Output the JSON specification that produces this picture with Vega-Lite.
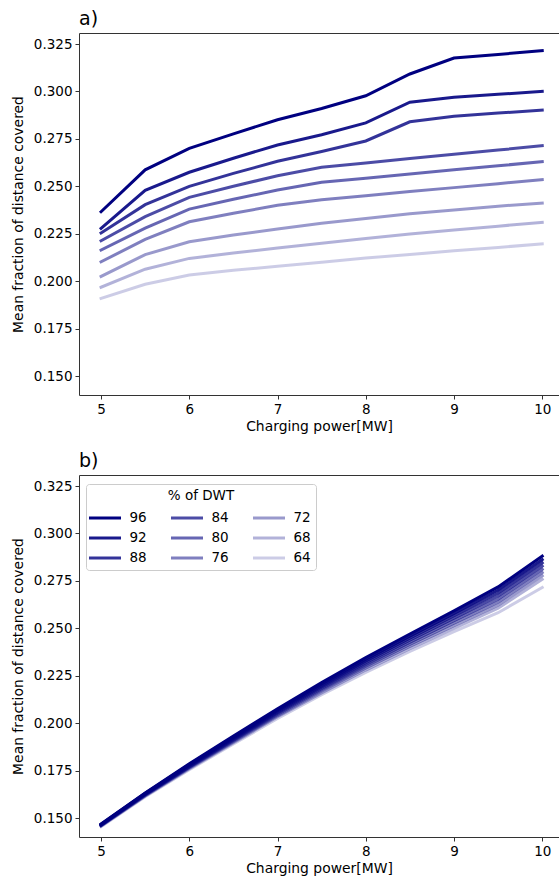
{
  "$schema": "https://vega.github.io/schema/vega-lite/v6.json",
  "padding": {"left": 11, "top": 10, "right": 0, "bottom": 0},
  "config": {
    "font": "DejaVu Sans",
    "view": {"stroke": null},
    "axis": {
      "domainColor": "#333333",
      "tickColor": "#333333",
      "labelColor": "#000000",
      "titleColor": "#000000",
      "labelFontSize": 13.5,
      "titleFontSize": 13.9,
      "titleFontWeight": "normal",
      "tickSize": 4,
      "labelPadding": 3,
      "grid": false
    },
    "title": {"fontSize": 19, "fontWeight": "normal", "anchor": "start", "frame": "group", "color": "#000000", "offset": 4},
    "legend": {
      "symbolType": "M-2.667,0H2.667",
      "symbolSize": 144,
      "symbolOffset": 6.5,
      "symbolStrokeWidth": 3,
      "labelFontSize": 13.5,
      "labelColor": "#000000",
      "titleFontSize": 13.5,
      "titleFontWeight": "normal",
      "titleColor": "#000000",
      "titleAnchor": "middle",
      "titlePadding": 8,
      "labelOffset": 17,
      "rowPadding": 6,
      "columnPadding": 17,
      "padding": 5,
      "strokeColor": "#cccccc",
      "fillColor": "#ffffff",
      "cornerRadius": 3
    },
    "concat": {"spacing": 18}
  },
  "datasets": {
    "curves": [
      {"panel": "a", "dwt": 96, "power": 5, "frac": 0.2366},
      {"panel": "a", "dwt": 96, "power": 5.5, "frac": 0.2587},
      {"panel": "a", "dwt": 96, "power": 6, "frac": 0.2700},
      {"panel": "a", "dwt": 96, "power": 6.5, "frac": 0.2776},
      {"panel": "a", "dwt": 96, "power": 7, "frac": 0.2851},
      {"panel": "a", "dwt": 96, "power": 7.5, "frac": 0.2910},
      {"panel": "a", "dwt": 96, "power": 8, "frac": 0.2977},
      {"panel": "a", "dwt": 96, "power": 8.5, "frac": 0.3092},
      {"panel": "a", "dwt": 96, "power": 9, "frac": 0.3176},
      {"panel": "a", "dwt": 96, "power": 9.5, "frac": 0.3195},
      {"panel": "a", "dwt": 96, "power": 10, "frac": 0.3215},
      {"panel": "a", "dwt": 92, "power": 5, "frac": 0.2278},
      {"panel": "a", "dwt": 92, "power": 5.5, "frac": 0.2479},
      {"panel": "a", "dwt": 92, "power": 6, "frac": 0.2574},
      {"panel": "a", "dwt": 92, "power": 6.5, "frac": 0.2648},
      {"panel": "a", "dwt": 92, "power": 7, "frac": 0.2718},
      {"panel": "a", "dwt": 92, "power": 7.5, "frac": 0.2772},
      {"panel": "a", "dwt": 92, "power": 8, "frac": 0.2834},
      {"panel": "a", "dwt": 92, "power": 8.5, "frac": 0.2943},
      {"panel": "a", "dwt": 92, "power": 9, "frac": 0.2969},
      {"panel": "a", "dwt": 92, "power": 9.5, "frac": 0.2985},
      {"panel": "a", "dwt": 92, "power": 10, "frac": 0.3000},
      {"panel": "a", "dwt": 88, "power": 5, "frac": 0.2254},
      {"panel": "a", "dwt": 88, "power": 5.5, "frac": 0.2403},
      {"panel": "a", "dwt": 88, "power": 6, "frac": 0.2500},
      {"panel": "a", "dwt": 88, "power": 6.5, "frac": 0.2568},
      {"panel": "a", "dwt": 88, "power": 7, "frac": 0.2632},
      {"panel": "a", "dwt": 88, "power": 7.5, "frac": 0.2683},
      {"panel": "a", "dwt": 88, "power": 8, "frac": 0.2739},
      {"panel": "a", "dwt": 88, "power": 8.5, "frac": 0.2840},
      {"panel": "a", "dwt": 88, "power": 9, "frac": 0.2869},
      {"panel": "a", "dwt": 88, "power": 9.5, "frac": 0.2886},
      {"panel": "a", "dwt": 88, "power": 10, "frac": 0.2902},
      {"panel": "a", "dwt": 84, "power": 5, "frac": 0.2213},
      {"panel": "a", "dwt": 84, "power": 5.5, "frac": 0.2340},
      {"panel": "a", "dwt": 84, "power": 6, "frac": 0.2442},
      {"panel": "a", "dwt": 84, "power": 6.5, "frac": 0.2500},
      {"panel": "a", "dwt": 84, "power": 7, "frac": 0.2556},
      {"panel": "a", "dwt": 84, "power": 7.5, "frac": 0.2600},
      {"panel": "a", "dwt": 84, "power": 8, "frac": 0.2623},
      {"panel": "a", "dwt": 84, "power": 8.5, "frac": 0.2646},
      {"panel": "a", "dwt": 84, "power": 9, "frac": 0.2669},
      {"panel": "a", "dwt": 84, "power": 9.5, "frac": 0.2691},
      {"panel": "a", "dwt": 84, "power": 10, "frac": 0.2714},
      {"panel": "a", "dwt": 80, "power": 5, "frac": 0.2164},
      {"panel": "a", "dwt": 80, "power": 5.5, "frac": 0.2280},
      {"panel": "a", "dwt": 80, "power": 6, "frac": 0.2380},
      {"panel": "a", "dwt": 80, "power": 6.5, "frac": 0.2432},
      {"panel": "a", "dwt": 80, "power": 7, "frac": 0.2480},
      {"panel": "a", "dwt": 80, "power": 7.5, "frac": 0.2521},
      {"panel": "a", "dwt": 80, "power": 8, "frac": 0.2543},
      {"panel": "a", "dwt": 80, "power": 8.5, "frac": 0.2565},
      {"panel": "a", "dwt": 80, "power": 9, "frac": 0.2587},
      {"panel": "a", "dwt": 80, "power": 9.5, "frac": 0.2608},
      {"panel": "a", "dwt": 80, "power": 10, "frac": 0.2630},
      {"panel": "a", "dwt": 76, "power": 5, "frac": 0.2102},
      {"panel": "a", "dwt": 76, "power": 5.5, "frac": 0.2220},
      {"panel": "a", "dwt": 76, "power": 6, "frac": 0.2313},
      {"panel": "a", "dwt": 76, "power": 6.5, "frac": 0.2358},
      {"panel": "a", "dwt": 76, "power": 7, "frac": 0.2400},
      {"panel": "a", "dwt": 76, "power": 7.5, "frac": 0.2429},
      {"panel": "a", "dwt": 76, "power": 8, "frac": 0.2450},
      {"panel": "a", "dwt": 76, "power": 8.5, "frac": 0.2472},
      {"panel": "a", "dwt": 76, "power": 9, "frac": 0.2493},
      {"panel": "a", "dwt": 76, "power": 9.5, "frac": 0.2514},
      {"panel": "a", "dwt": 76, "power": 10, "frac": 0.2535},
      {"panel": "a", "dwt": 72, "power": 5, "frac": 0.2025},
      {"panel": "a", "dwt": 72, "power": 5.5, "frac": 0.2140},
      {"panel": "a", "dwt": 72, "power": 6, "frac": 0.2208},
      {"panel": "a", "dwt": 72, "power": 6.5, "frac": 0.2243},
      {"panel": "a", "dwt": 72, "power": 7, "frac": 0.2275},
      {"panel": "a", "dwt": 72, "power": 7.5, "frac": 0.2305},
      {"panel": "a", "dwt": 72, "power": 8, "frac": 0.2330},
      {"panel": "a", "dwt": 72, "power": 8.5, "frac": 0.2355},
      {"panel": "a", "dwt": 72, "power": 9, "frac": 0.2375},
      {"panel": "a", "dwt": 72, "power": 9.5, "frac": 0.2395},
      {"panel": "a", "dwt": 72, "power": 10, "frac": 0.2412},
      {"panel": "a", "dwt": 68, "power": 5, "frac": 0.1968},
      {"panel": "a", "dwt": 68, "power": 5.5, "frac": 0.2063},
      {"panel": "a", "dwt": 68, "power": 6, "frac": 0.2120},
      {"panel": "a", "dwt": 68, "power": 6.5, "frac": 0.2148},
      {"panel": "a", "dwt": 68, "power": 7, "frac": 0.2175},
      {"panel": "a", "dwt": 68, "power": 7.5, "frac": 0.2200},
      {"panel": "a", "dwt": 68, "power": 8, "frac": 0.2225},
      {"panel": "a", "dwt": 68, "power": 8.5, "frac": 0.2248},
      {"panel": "a", "dwt": 68, "power": 9, "frac": 0.2270},
      {"panel": "a", "dwt": 68, "power": 9.5, "frac": 0.2290},
      {"panel": "a", "dwt": 68, "power": 10, "frac": 0.2310},
      {"panel": "a", "dwt": 64, "power": 5, "frac": 0.1909},
      {"panel": "a", "dwt": 64, "power": 5.5, "frac": 0.1984},
      {"panel": "a", "dwt": 64, "power": 6, "frac": 0.2032},
      {"panel": "a", "dwt": 64, "power": 6.5, "frac": 0.2058},
      {"panel": "a", "dwt": 64, "power": 7, "frac": 0.2078},
      {"panel": "a", "dwt": 64, "power": 7.5, "frac": 0.2100},
      {"panel": "a", "dwt": 64, "power": 8, "frac": 0.2122},
      {"panel": "a", "dwt": 64, "power": 8.5, "frac": 0.2140},
      {"panel": "a", "dwt": 64, "power": 9, "frac": 0.2160},
      {"panel": "a", "dwt": 64, "power": 9.5, "frac": 0.2178},
      {"panel": "a", "dwt": 64, "power": 10, "frac": 0.2196},

      {"panel": "b", "dwt": 96, "power": 5, "frac": 0.1468},
      {"panel": "b", "dwt": 96, "power": 5.5, "frac": 0.1632},
      {"panel": "b", "dwt": 96, "power": 6, "frac": 0.1786},
      {"panel": "b", "dwt": 96, "power": 6.5, "frac": 0.1932},
      {"panel": "b", "dwt": 96, "power": 7, "frac": 0.2076},
      {"panel": "b", "dwt": 96, "power": 7.5, "frac": 0.2214},
      {"panel": "b", "dwt": 96, "power": 8, "frac": 0.2346},
      {"panel": "b", "dwt": 96, "power": 8.5, "frac": 0.2470},
      {"panel": "b", "dwt": 96, "power": 9, "frac": 0.2592},
      {"panel": "b", "dwt": 96, "power": 9.5, "frac": 0.2718},
      {"panel": "b", "dwt": 96, "power": 10, "frac": 0.2880},
      {"panel": "b", "dwt": 92, "power": 5, "frac": 0.1467},
      {"panel": "b", "dwt": 92, "power": 5.5, "frac": 0.1630},
      {"panel": "b", "dwt": 92, "power": 6, "frac": 0.1782},
      {"panel": "b", "dwt": 92, "power": 6.5, "frac": 0.1927},
      {"panel": "b", "dwt": 92, "power": 7, "frac": 0.2070},
      {"panel": "b", "dwt": 92, "power": 7.5, "frac": 0.2206},
      {"panel": "b", "dwt": 92, "power": 8, "frac": 0.2336},
      {"panel": "b", "dwt": 92, "power": 8.5, "frac": 0.2459},
      {"panel": "b", "dwt": 92, "power": 9, "frac": 0.2579},
      {"panel": "b", "dwt": 92, "power": 9.5, "frac": 0.2702},
      {"panel": "b", "dwt": 92, "power": 10, "frac": 0.2862},
      {"panel": "b", "dwt": 88, "power": 5, "frac": 0.1465},
      {"panel": "b", "dwt": 88, "power": 5.5, "frac": 0.1628},
      {"panel": "b", "dwt": 88, "power": 6, "frac": 0.1779},
      {"panel": "b", "dwt": 88, "power": 6.5, "frac": 0.1922},
      {"panel": "b", "dwt": 88, "power": 7, "frac": 0.2064},
      {"panel": "b", "dwt": 88, "power": 7.5, "frac": 0.2198},
      {"panel": "b", "dwt": 88, "power": 8, "frac": 0.2327},
      {"panel": "b", "dwt": 88, "power": 8.5, "frac": 0.2448},
      {"panel": "b", "dwt": 88, "power": 9, "frac": 0.2566},
      {"panel": "b", "dwt": 88, "power": 9.5, "frac": 0.2686},
      {"panel": "b", "dwt": 88, "power": 10, "frac": 0.2845},
      {"panel": "b", "dwt": 84, "power": 5, "frac": 0.1464},
      {"panel": "b", "dwt": 84, "power": 5.5, "frac": 0.1626},
      {"panel": "b", "dwt": 84, "power": 6, "frac": 0.1775},
      {"panel": "b", "dwt": 84, "power": 6.5, "frac": 0.1917},
      {"panel": "b", "dwt": 84, "power": 7, "frac": 0.2058},
      {"panel": "b", "dwt": 84, "power": 7.5, "frac": 0.2191},
      {"panel": "b", "dwt": 84, "power": 8, "frac": 0.2318},
      {"panel": "b", "dwt": 84, "power": 8.5, "frac": 0.2437},
      {"panel": "b", "dwt": 84, "power": 9, "frac": 0.2553},
      {"panel": "b", "dwt": 84, "power": 9.5, "frac": 0.2670},
      {"panel": "b", "dwt": 84, "power": 10, "frac": 0.2828},
      {"panel": "b", "dwt": 80, "power": 5, "frac": 0.1462},
      {"panel": "b", "dwt": 80, "power": 5.5, "frac": 0.1623},
      {"panel": "b", "dwt": 80, "power": 6, "frac": 0.1771},
      {"panel": "b", "dwt": 80, "power": 6.5, "frac": 0.1912},
      {"panel": "b", "dwt": 80, "power": 7, "frac": 0.2052},
      {"panel": "b", "dwt": 80, "power": 7.5, "frac": 0.2183},
      {"panel": "b", "dwt": 80, "power": 8, "frac": 0.2308},
      {"panel": "b", "dwt": 80, "power": 8.5, "frac": 0.2426},
      {"panel": "b", "dwt": 80, "power": 9, "frac": 0.2540},
      {"panel": "b", "dwt": 80, "power": 9.5, "frac": 0.2654},
      {"panel": "b", "dwt": 80, "power": 10, "frac": 0.2811},
      {"panel": "b", "dwt": 76, "power": 5, "frac": 0.1461},
      {"panel": "b", "dwt": 76, "power": 5.5, "frac": 0.1621},
      {"panel": "b", "dwt": 76, "power": 6, "frac": 0.1768},
      {"panel": "b", "dwt": 76, "power": 6.5, "frac": 0.1907},
      {"panel": "b", "dwt": 76, "power": 7, "frac": 0.2046},
      {"panel": "b", "dwt": 76, "power": 7.5, "frac": 0.2176},
      {"panel": "b", "dwt": 76, "power": 8, "frac": 0.2299},
      {"panel": "b", "dwt": 76, "power": 8.5, "frac": 0.2415},
      {"panel": "b", "dwt": 76, "power": 9, "frac": 0.2527},
      {"panel": "b", "dwt": 76, "power": 9.5, "frac": 0.2638},
      {"panel": "b", "dwt": 76, "power": 10, "frac": 0.2794},
      {"panel": "b", "dwt": 72, "power": 5, "frac": 0.1459},
      {"panel": "b", "dwt": 72, "power": 5.5, "frac": 0.1618},
      {"panel": "b", "dwt": 72, "power": 6, "frac": 0.1764},
      {"panel": "b", "dwt": 72, "power": 6.5, "frac": 0.1902},
      {"panel": "b", "dwt": 72, "power": 7, "frac": 0.2040},
      {"panel": "b", "dwt": 72, "power": 7.5, "frac": 0.2168},
      {"panel": "b", "dwt": 72, "power": 8, "frac": 0.2290},
      {"panel": "b", "dwt": 72, "power": 8.5, "frac": 0.2404},
      {"panel": "b", "dwt": 72, "power": 9, "frac": 0.2514},
      {"panel": "b", "dwt": 72, "power": 9.5, "frac": 0.2622},
      {"panel": "b", "dwt": 72, "power": 10, "frac": 0.2777},
      {"panel": "b", "dwt": 68, "power": 5, "frac": 0.1458},
      {"panel": "b", "dwt": 68, "power": 5.5, "frac": 0.1616},
      {"panel": "b", "dwt": 68, "power": 6, "frac": 0.1760},
      {"panel": "b", "dwt": 68, "power": 6.5, "frac": 0.1897},
      {"panel": "b", "dwt": 68, "power": 7, "frac": 0.2034},
      {"panel": "b", "dwt": 68, "power": 7.5, "frac": 0.2160},
      {"panel": "b", "dwt": 68, "power": 8, "frac": 0.2280},
      {"panel": "b", "dwt": 68, "power": 8.5, "frac": 0.2393},
      {"panel": "b", "dwt": 68, "power": 9, "frac": 0.2500},
      {"panel": "b", "dwt": 68, "power": 9.5, "frac": 0.2606},
      {"panel": "b", "dwt": 68, "power": 10, "frac": 0.2758},
      {"panel": "b", "dwt": 64, "power": 5, "frac": 0.1455},
      {"panel": "b", "dwt": 64, "power": 5.5, "frac": 0.1612},
      {"panel": "b", "dwt": 64, "power": 6, "frac": 0.1755},
      {"panel": "b", "dwt": 64, "power": 6.5, "frac": 0.1890},
      {"panel": "b", "dwt": 64, "power": 7, "frac": 0.2025},
      {"panel": "b", "dwt": 64, "power": 7.5, "frac": 0.2150},
      {"panel": "b", "dwt": 64, "power": 8, "frac": 0.2268},
      {"panel": "b", "dwt": 64, "power": 8.5, "frac": 0.2378},
      {"panel": "b", "dwt": 64, "power": 9, "frac": 0.2482},
      {"panel": "b", "dwt": 64, "power": 9.5, "frac": 0.2582},
      {"panel": "b", "dwt": 64, "power": 10, "frac": 0.2715}
    ]
  },
  "vconcat": [
    {
      "title": "a)",
      "width": 480,
      "height": 362,
      "data": {"name": "curves"},
      "transform": [{"filter": "datum.panel === 'a'"}],
      "layer": [
        {
          "mark": {"type": "line", "strokeWidth": 3, "strokeCap": "square", "clip": true},
          "encoding": {
            "x": {"field": "power", "type": "quantitative", "scale": {"domain": [4.75, 10.19], "nice": false, "zero": false}, "axis": {"values": [5, 6, 7, 8, 9, 10], "title": "Charging power[MW]", "titlePadding": 4}},
            "y": {"field": "frac", "type": "quantitative", "scale": {"domain": [0.14, 0.3308], "nice": false, "zero": false}, "axis": {"values": [0.15, 0.175, 0.2, 0.225, 0.25, 0.275, 0.3, 0.325], "format": ".3f", "title": "Mean fraction of distance covered", "titlePadding": 8}},
            "color": {"field": "dwt", "type": "nominal", "scale": {"domain": [96, 92, 88, 84, 80, 76, 72, 68, 64], "range": ["rgba(0,0,128,1)", "rgba(0,0,128,0.9)", "rgba(0,0,128,0.8)", "rgba(0,0,128,0.7)", "rgba(0,0,128,0.6)", "rgba(0,0,128,0.5)", "rgba(0,0,128,0.4)", "rgba(0,0,128,0.3)", "rgba(0,0,128,0.2)"]}, "legend": null},
            "order": {"field": "power", "type": "quantitative"}
          }
        },
        {
          "mark": {"type": "line", "opacity": 0},
          "encoding": {
            "x": {"field": "power", "type": "quantitative", "axis": {"orient": "top", "labels": false, "ticks": false, "title": null, "domain": true}},
            "y": {"field": "frac", "type": "quantitative", "axis": null},
            "detail": {"field": "dwt", "type": "nominal"}
          }
        }
      ],
      "resolve": {"axis": {"x": "independent", "y": "independent"}}
    },
    {
      "title": "b)",
      "width": 480,
      "height": 362,
      "data": {"name": "curves"},
      "transform": [{"filter": "datum.panel === 'b'"}],
      "layer": [
        {
          "mark": {"type": "line", "strokeWidth": 3, "strokeCap": "square", "clip": true},
          "encoding": {
            "x": {"field": "power", "type": "quantitative", "scale": {"domain": [4.75, 10.19], "nice": false, "zero": false}, "axis": {"values": [5, 6, 7, 8, 9, 10], "title": "Charging power[MW]", "titlePadding": 4}},
            "y": {"field": "frac", "type": "quantitative", "scale": {"domain": [0.14, 0.3308], "nice": false, "zero": false}, "axis": {"values": [0.15, 0.175, 0.2, 0.225, 0.25, 0.275, 0.3, 0.325], "format": ".3f", "title": "Mean fraction of distance covered", "titlePadding": 8}},
            "color": {"field": "dwt", "type": "nominal", "title": "% of DWT", "scale": {"domain": [96, 92, 88, 84, 80, 76, 72, 68, 64], "range": ["rgba(0,0,128,1)", "rgba(0,0,128,0.9)", "rgba(0,0,128,0.8)", "rgba(0,0,128,0.7)", "rgba(0,0,128,0.6)", "rgba(0,0,128,0.5)", "rgba(0,0,128,0.4)", "rgba(0,0,128,0.3)", "rgba(0,0,128,0.2)"]}, "legend": {"orient": "none", "legendX": 7, "legendY": 9, "columns": 3}},
            "order": {"field": "power", "type": "quantitative"}
          }
        },
        {
          "mark": {"type": "line", "opacity": 0},
          "encoding": {
            "x": {"field": "power", "type": "quantitative", "axis": {"orient": "top", "labels": false, "ticks": false, "title": null, "domain": true}},
            "y": {"field": "frac", "type": "quantitative", "axis": null},
            "detail": {"field": "dwt", "type": "nominal"}
          }
        }
      ],
      "resolve": {"axis": {"x": "independent", "y": "independent"}}
    }
  ],
  "resolve": {"legend": {"color": "independent"}, "scale": {"color": "independent"}}
}
